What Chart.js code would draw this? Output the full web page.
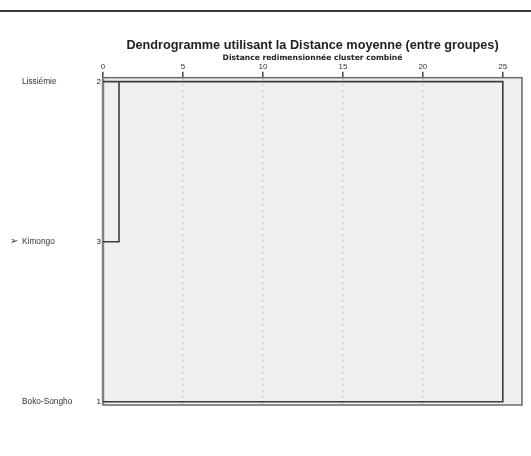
<!DOCTYPE html>
<html>
<head>
<meta charset="utf-8">
<script src="https://cdn.jsdelivr.net/npm/chart.js@4"></script>
<style>
html,body{margin:0;padding:0;background:#fff;}
#wrap{width:531px;height:456px;position:relative;}
</style>
</head>
<body>
<div id="wrap"><canvas id="c"></canvas></div>
<script>
// ---- data ----
const categories = ['Lissiémie', 'Kimongo', 'Boko-Songho'];
const caseNumbers = ['2', '3', '1'];
const markers = ['', '\u27A2', ''];
const rowPositions = [1, 2, 3];
// rescaled merge distances: step 1 joins Lissiémie + Kimongo, step 2 joins Boko-Songho
const mergeDistances = [1.0, 25];
const xTicks = [0, 5, 10, 15, 20, 25];

const FONT = "'Liberation Sans', Arial, sans-serif";

// build dendrogram paths from the data
const step1 = [
  {x: 0, y: rowPositions[1]},
  {x: mergeDistances[0], y: rowPositions[1]},
  {x: mergeDistances[0], y: rowPositions[0]}
];
const step2 = [
  {x: 0, y: rowPositions[0]},
  {x: mergeDistances[1], y: rowPositions[0]},
  {x: mergeDistances[1], y: rowPositions[2]},
  {x: 0, y: rowPositions[2]}
];

const lineStyle = {showLine: true, borderColor: '#3c3c3c', borderWidth: 1.6, pointRadius: 0, fill: false, tension: 0, clip: false, yAxisID: 'y'};

const yCommon = {
  type: 'linear', min: 0.975, max: 3.02, reverse: true,
  grid: {display: false, drawTicks: false}, border: {display: false},
  afterBuildTicks: s => { s.ticks = rowPositions.map(v => ({value: v})); }
};

const bgPlugin = {
  id: 'bg',
  beforeDraw(chart) {
    const {ctx, chartArea: a, width} = chart;
    ctx.save();
    ctx.fillStyle = '#fff';
    ctx.fillRect(0, 0, width, chart.height);
    ctx.strokeStyle = '#3a3a3a';
    ctx.lineWidth = 2;
    ctx.beginPath(); ctx.moveTo(0, 11); ctx.lineTo(width, 11); ctx.stroke();
    ctx.fillStyle = '#efefef';
    ctx.fillRect(a.left, a.top, a.right - a.left, a.bottom - a.top);
    ctx.restore();
  },
  beforeDatasetsDraw(chart) {
    const {ctx, chartArea: a} = chart;
    ctx.save();
    ctx.strokeStyle = '#6a6a6a';
    ctx.lineWidth = 1.5;
    ctx.strokeRect(a.left, a.top, a.right - a.left, a.bottom - a.top);
    ctx.strokeStyle = '#808080';
    ctx.lineWidth = 2.5;
    ctx.beginPath(); ctx.moveTo(a.left, a.top); ctx.lineTo(a.left, a.bottom); ctx.stroke();
    ctx.restore();
  }
};

new Chart(document.getElementById('c'), {
  type: 'scatter',
  data: {
    datasets: [
      Object.assign({label: 'étape 1', data: step1}, lineStyle),
      Object.assign({label: 'étape 2', data: step2}, lineStyle)
    ]
  },
  options: {
    responsive: true, maintainAspectRatio: false, animation: false,
    layout: {padding: {top: 38.5, left: 10, right: 9, bottom: 51}},
    plugins: {
      legend: {display: false},
      tooltip: {enabled: false},
      title: {
        display: true, fullSize: false,
        text: 'Dendrogramme utilisant la Distance moyenne (entre groupes)',
        color: '#222', font: {family: FONT, size: 12.7, weight: 'bold', lineHeight: 1.1},
        padding: {top: 0, bottom: 1.6}
      },
      subtitle: {
        display: true, fullSize: false,
        text: 'Distance redimensionnée cluster combiné',
        color: '#222', font: {family: "'DejaVu Sans', sans-serif", size: 7.6, weight: 'bold', lineHeight: 1.0},
        padding: {top: 0, bottom: 0}
      }
    },
    scales: {
      x: {
        type: 'linear', position: 'top', min: 0, max: 26.2,
        afterBuildTicks: s => { s.ticks = xTicks.map(v => ({value: v})); },
        ticks: {color: '#333', font: {family: FONT, size: 8, lineHeight: 1.0}, padding: 1, maxRotation: 0},
        grid: {
          color: ctx => (ctx.tick && (ctx.tick.value === 0 || ctx.tick.value === 25)) ? 'rgba(0,0,0,0)' : '#d2d2d2',
          lineWidth: 1.6, drawTicks: true, tickLength: 6, tickColor: '#444', tickWidth: 1.5
        },
        border: {display: false, dash: [2, 4]}
      },
      y: Object.assign({}, yCommon, {
        position: 'left', weight: 0,
        ticks: {color: '#222', font: {family: FONT, size: 8}, padding: 2, crossAlign: 'near',
          callback: (v, i) => caseNumbers[i]},
        afterFit: s => { s.width = 30; }
      }),
      yNames: Object.assign({}, yCommon, {
        position: 'left', weight: 1, display: true,
        ticks: {color: '#333', font: {family: FONT, size: 8.3}, padding: 0, crossAlign: 'far',
          callback: (v, i) => categories[i]},
        afterFit: s => { s.width = 51; }
      }),
      yMark: Object.assign({}, yCommon, {
        position: 'left', weight: 2, display: true,
        ticks: {color: '#333', font: {family: "'DejaVu Sans', sans-serif", size: 10}, padding: 0, crossAlign: 'far',
          callback: (v, i) => markers[i]},
        afterFit: s => { s.width = 12; }
      })
    }
  },
  plugins: [bgPlugin]
});
</script>
</body>
</html>
